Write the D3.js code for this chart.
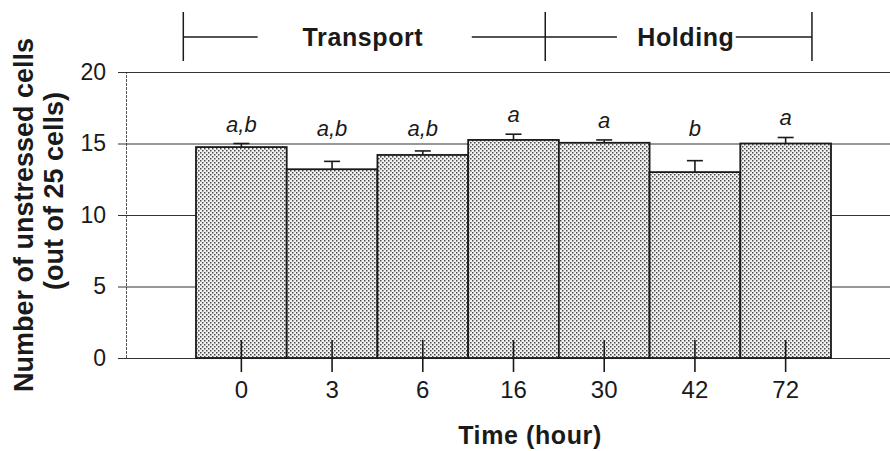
<!DOCTYPE html>
<html>
<head>
<meta charset="utf-8">
<script src="https://cdn.jsdelivr.net/npm/d3@7"></script>
<style>
  html, body { margin: 0; padding: 0; background: #fff; }
  svg { display: block; }
  text { font-family: Arial, "Liberation Sans", Helvetica, sans-serif; fill: #1a1a1a; }
</style>
</head>
<body>
<script>
// Unstressed cells per sample over the transport / holding period
const hours = ["0", "3", "6", "16", "30", "42", "72"];
const meanCells = [14.75, 13.2, 14.2, 15.25, 15.05, 13.0, 15.0];
const semCells = [0.25, 0.55, 0.28, 0.4, 0.2, 0.8, 0.42];
const groupLetters = ["a,b", "a,b", "a,b", "a", "a", "b", "a"];
const yTicks = [0, 5, 10, 15, 20];
const phaseNames = ["Transport", "Holding"];

const W = 890, H = 451;
const svg = d3.select("body").append("svg").attr("width", W).attr("height", H);

const x = d3.scaleBand().domain(hours).range([196, 831]).padding(0);
const y = d3.scaleLinear().domain([0, 20]).range([358, 72]);
// continuous position in bar units, used for the phase brackets above the plot
const xi = d3.scaleLinear().domain([0, hours.length]).range([196, 831]);

// dotted stipple fill for the bars
const defs = svg.append("defs");
const pat = defs.append("pattern").attr("id", "stipple")
  .attr("patternUnits", "userSpaceOnUse").attr("width", 4).attr("height", 4);
pat.append("rect").attr("width", 4).attr("height", 4).attr("fill", "#f2f2f2");
pat.append("rect").attr("x", 0).attr("y", 0).attr("width", 1.5).attr("height", 1.5).attr("fill", "#4a4a4a");
pat.append("rect").attr("x", 2).attr("y", 2).attr("width", 1.5).attr("height", 1.5).attr("fill", "#4a4a4a");

// horizontal grid lines with left ticks
const yAxis = d3.axisLeft(y).tickValues(yTicks).tickSize(-(W - 126)).tickPadding(12);
const gy = svg.append("g").attr("transform", "translate(126,0)").call(yAxis);
gy.select(".domain").attr("stroke", "#555").attr("stroke-width", 1).attr("stroke-dasharray", "3,1");
gy.selectAll(".tick line").attr("stroke", "#333").attr("stroke-width", 1.1).attr("x1", -8);
gy.selectAll(".tick text").attr("font-size", 23).attr("fill", "#1a1a1a").attr("x", -20);

// bars
svg.append("g").selectAll("rect").data(hours).join("rect")
  .attr("x", d => x(d))
  .attr("y", (d, i) => y(meanCells[i]))
  .attr("width", x.bandwidth())
  .attr("height", (d, i) => y(0) - y(meanCells[i]))
  .attr("fill", "url(#stipple)")
  .attr("stroke", "#1a1a1a").attr("stroke-width", 1.8);

// error bars (upper half only)
const eb = svg.append("g").attr("stroke", "#1a1a1a").attr("stroke-width", 1.6);
hours.forEach((h, i) => {
  const cx = x(h) + x.bandwidth() / 2;
  const top = y(meanCells[i] + semCells[i]);
  eb.append("line").attr("x1", cx).attr("x2", cx).attr("y1", y(meanCells[i])).attr("y2", top);
  eb.append("line").attr("x1", cx - 8).attr("x2", cx + 8).attr("y1", top).attr("y2", top);
});

// significance letters
svg.append("g").selectAll("text").data(hours).join("text")
  .attr("x", d => x(d) + x.bandwidth() / 2)
  .attr("y", (d, i) => Math.min(y(meanCells[i] + semCells[i]) - 12, y(15) - 8))
  .attr("text-anchor", "middle")
  .attr("font-size", 22).attr("font-style", "italic")
  .text((d, i) => groupLetters[i]);

// x axis: ticks crossing the baseline
const xAxis = d3.axisBottom(x).tickSizeInner(14).tickSizeOuter(0).tickPadding(4);
const gx = svg.append("g").attr("transform", `translate(0,${y(0)})`).call(xAxis);
gx.select(".domain").remove();
gx.selectAll(".tick line").attr("y1", -18).attr("y2", 14).attr("stroke", "#1a1a1a").attr("stroke-width", 1.6);
gx.selectAll(".tick text").attr("font-size", 24).attr("fill", "#1a1a1a").attr("dy", "0.9em");

// axis titles
svg.append("text").attr("x", 530).attr("y", 444)
  .attr("text-anchor", "middle").attr("font-size", 25).attr("font-weight", "bold")
  .attr("letter-spacing", 0.6)
  .text("Time (hour)");
svg.append("text").attr("transform", "translate(33,215) rotate(-90)")
  .attr("text-anchor", "middle").attr("font-size", 27).attr("font-weight", "bold")
  .text("Number of unstressed cells");
svg.append("text").attr("transform", "translate(63,191) rotate(-90)")
  .attr("text-anchor", "middle").attr("font-size", 27).attr("font-weight", "bold")
  .text("(out of 25 cells)");

// phase brackets above the plot
const br = svg.append("g").attr("stroke", "#1a1a1a").attr("stroke-width", 1.5);
const bY = 37;
[-0.14, 3.85, 6.79].forEach(v => {
  br.append("line").attr("x1", xi(v)).attr("x2", xi(v)).attr("y1", 12).attr("y2", 61);
});
br.append("line").attr("x1", xi(-0.14)).attr("x2", xi(0.68)).attr("y1", bY).attr("y2", bY);
br.append("line").attr("x1", xi(3.04)).attr("x2", xi(4.64)).attr("y1", bY).attr("y2", bY);
br.append("line").attr("x1", xi(5.95)).attr("x2", xi(6.79)).attr("y1", bY).attr("y2", bY);
svg.append("text").attr("x", xi(1.84)).attr("y", bY + 9)
  .attr("text-anchor", "middle").attr("font-size", 25).attr("font-weight", "bold")
  .attr("letter-spacing", 0.6).text(phaseNames[0]);
svg.append("text").attr("x", xi(5.4)).attr("y", bY + 9)
  .attr("text-anchor", "middle").attr("font-size", 25).attr("font-weight", "bold")
  .attr("letter-spacing", 0.6).text(phaseNames[1]);
</script>
</body>
</html>
